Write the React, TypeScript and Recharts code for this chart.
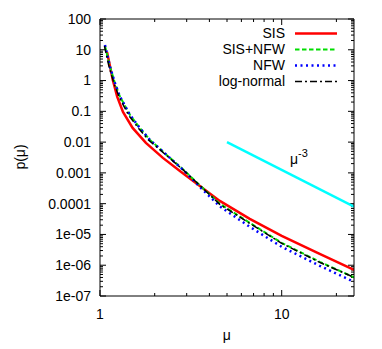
import { LineChart, Line, XAxis, YAxis, ReferenceLine, Customized } from "recharts";

// magnification pdf curves (mu, p)
const sis = [
  { mu: 1.093, p: 8.5 }, { mu: 1.121, p: 4.17 }, { mu: 1.176, p: 1.05 }, { mu: 1.243, p: 0.3 },
  { mu: 1.338, p: 0.0956 }, { mu: 1.512, p: 0.0289 }, { mu: 1.789, p: 0.00942 }, { mu: 2.219, p: 0.00307 },
  { mu: 2.787, p: 0.00108 }, { mu: 3.544, p: 3.78e-4 }, { mu: 4.563, p: 1.23e-4 }, { mu: 6.672, p: 3.21e-5 },
  { mu: 10, p: 9.0e-6 }, { mu: 16.18, p: 2.34e-6 }, { mu: 25, p: 7.1e-7 },
];
const sisNfw = [
  { mu: 1.065, p: 13.3 }, { mu: 1.135, p: 2.83 }, { mu: 1.209, p: 0.817 }, { mu: 1.288, p: 0.3 },
  { mu: 1.462, p: 0.0764 }, { mu: 1.659, p: 0.0283 }, { mu: 1.883, p: 0.0118 }, { mu: 2.325, p: 0.00384 },
  { mu: 2.869, p: 0.0013 }, { mu: 3.544, p: 3.93e-4 }, { mu: 4.563, p: 9.86e-5 }, { mu: 6.672, p: 2.38e-5 },
  { mu: 10, p: 5.33e-6 }, { mu: 16.18, p: 1.29e-6 }, { mu: 25, p: 4.05e-7 },
];
const nfw = [
  { mu: 1.065, p: 14.3 }, { mu: 1.135, p: 2.83 }, { mu: 1.209, p: 0.817 }, { mu: 1.288, p: 0.3 },
  { mu: 1.462, p: 0.0764 }, { mu: 1.659, p: 0.0283 }, { mu: 1.883, p: 0.0118 }, { mu: 2.325, p: 0.00384 },
  { mu: 2.869, p: 0.00125 }, { mu: 3.544, p: 3.51e-4 }, { mu: 4.563, p: 8.17e-5 }, { mu: 6.672, p: 1.77e-5 },
  { mu: 10, p: 3.96e-6 }, { mu: 16.18, p: 9.6e-7 }, { mu: 25, p: 2.89e-7 },
];
const logNormal = [
  { mu: 1.058, p: 13.3 }, { mu: 1.121, p: 2.83 }, { mu: 1.194, p: 0.817 }, { mu: 1.272, p: 0.3 },
  { mu: 1.434, p: 0.0764 }, { mu: 1.628, p: 0.0283 }, { mu: 1.847, p: 0.0118 }, { mu: 2.305, p: 0.00384 },
  { mu: 2.869, p: 0.00125 }, { mu: 3.544, p: 3.93e-4 }, { mu: 4.563, p: 9.5e-5 }, { mu: 6.672, p: 2.29e-5 },
  { mu: 10, p: 5.14e-6 }, { mu: 16.18, p: 1.24e-6 }, { mu: 25, p: 4.05e-7 },
];
const slope = [{ mu: 5, p: 0.01 }, { mu: 25, p: 8e-5 }];

const muMajor = [1, 10];
const muMinor = [2, 3, 4, 5, 6, 7, 8, 9, 20];
const pMajor = [1e-7, 1e-6, 1e-5, 1e-4, 1e-3, 0.01, 0.1, 1, 10, 100];
const pLabels = ["1e-07", "1e-06", "1e-05", "0.0001", "0.001", "0.01", "0.1", "1", "10", "100"];

const pMinor: number[] = [];
pMajor.slice(0, -1).forEach((d) => {
  for (let k = 2; k <= 9; k++) pMinor.push(d * k);
});

const X_MIN = 1, X_MAX = 25, Y_MIN = 1e-7, Y_MAX = 100;
const PLOT_W = 254, PLOT_H = 277;

const legendItems = [
  { name: "SIS", color: "#ff0000", dash: undefined, width: 2.5 },
  { name: "SIS+NFW", color: "#00dd00", dash: "4.5 2.5", width: 2 },
  { name: "NFW", color: "#0000ff", dash: "2 3.5", width: 2.5 },
  { name: "log-normal", color: "#000000", dash: "7 3 2 3", width: 1.5 },
];

const FONT = "'Liberation Sans', Arial, Helvetica, sans-serif";

// inward tick length (px) expressed as a factor on the log axes
const xFactor = (px: number) => Math.pow(X_MAX / X_MIN, px / PLOT_W);
const yFactor = (px: number) => Math.pow(Y_MAX / Y_MIN, px / PLOT_H);

const tickSegments: { x1: number; y1: number; x2: number; y2: number }[] = [];
[...muMajor.map((m) => [m, 6]), ...muMinor.map((m) => [m, 3])].forEach(([m, len]) => {
  tickSegments.push({ x1: m, y1: Y_MIN, x2: m, y2: Y_MIN * yFactor(len) });
  tickSegments.push({ x1: m, y1: Y_MAX, x2: m, y2: Y_MAX / yFactor(len) });
});
[...pMajor.map((v) => [v, 6]), ...pMinor.map((v) => [v, 3])].forEach(([v, len]) => {
  tickSegments.push({ x1: X_MIN, y1: v, x2: X_MIN * xFactor(len), y2: v });
  tickSegments.push({ x1: X_MAX, y1: v, x2: X_MAX / xFactor(len), y2: v });
});

function XLabel(props: any) {
  const { x, y, payload } = props;
  return (
    <text x={x} y={y + 23} textAnchor="middle" fontSize={14} fontFamily={FONT} fill="#000">
      {String(payload.value)}
    </text>
  );
}

function YLabel(props: any) {
  const { x, y, payload } = props;
  const idx = pMajor.findIndex((d) => Math.abs(d - payload.value) / d < 1e-6);
  return (
    <text x={x - 9} y={y} dy="0.35em" textAnchor="end" fontSize={14} fontFamily={FONT} fill="#000">
      {idx >= 0 ? pLabels[idx] : ""}
    </text>
  );
}

const NoTick = () => <g />;

function Annotations() {
  return (
    <g fontFamily={FONT} fill="#000">
      {legendItems.map((it, i) => (
        <g key={it.name}>
          <text x={277} y={25.5 + i * 16} dy="0.35em" textAnchor="end" fontSize={14}>{it.name}</text>
          <line x1={287} x2={329} y1={25.5 + i * 16} y2={25.5 + i * 16}
            stroke={it.color} strokeWidth={it.width} strokeDasharray={it.dash} />
        </g>
      ))}
      <text x={282} y={156} fontSize={14}>
        μ<tspan dy={-7} fontSize={11}>-3</tspan>
      </text>
      <text x={218.7} y={332} textAnchor="middle" fontSize={14}>μ</text>
      <text transform="translate(16.5,149) rotate(-90)" textAnchor="middle" fontSize={14}>p(μ)</text>
    </g>
  );
}

export default function App() {
  const common = {
    type: "number" as const,
    scale: "log" as const,
    allowDataOverflow: true,
    interval: 0 as const,
    tickSize: 0,
    tickMargin: 0,
    tickLine: false,
    stroke: "#000",
  };
  const xc = { ...common, dataKey: "mu", domain: [X_MIN, X_MAX] };
  const yc = { ...common, dataKey: "p", domain: [Y_MIN, Y_MAX] };
  return (
    <LineChart width={374} height={341} margin={{ top: 10, right: 27, bottom: 23, left: 0 }}>
      <XAxis {...xc} ticks={muMajor} height={30} tick={<XLabel />} />
      <XAxis {...xc} xAxisId="top" orientation="top" ticks={muMajor} height={1} tick={<NoTick />} />
      <YAxis {...yc} ticks={pMajor} width={92} tick={<YLabel />} />
      <YAxis {...yc} yAxisId="right" orientation="right" ticks={pMajor} width={1} tick={<NoTick />} />
      {tickSegments.map((s, i) => (
        <ReferenceLine key={i} segment={[{ x: s.x1, y: s.y1 }, { x: s.x2, y: s.y2 }]}
          stroke="#000" strokeWidth={1} ifOverflow="visible" />
      ))}
      <Line data={sis} dataKey="p" stroke="#ff0000" strokeWidth={2.5} dot={false} isAnimationActive={false} />
      <Line data={sisNfw} dataKey="p" stroke="#00dd00" strokeWidth={2} strokeDasharray="4.5 2.5" dot={false} isAnimationActive={false} />
      <Line data={nfw} dataKey="p" stroke="#0000ff" strokeWidth={2.5} strokeDasharray="2 3.5" dot={false} isAnimationActive={false} />
      <Line data={logNormal} dataKey="p" stroke="#000000" strokeWidth={1.5} strokeDasharray="7 3 2 3" dot={false} isAnimationActive={false} />
      <Line data={slope} dataKey="p" stroke="#00ffff" strokeWidth={2.5} dot={false} isAnimationActive={false} />
      <Customized component={Annotations} />
    </LineChart>
  );
}
